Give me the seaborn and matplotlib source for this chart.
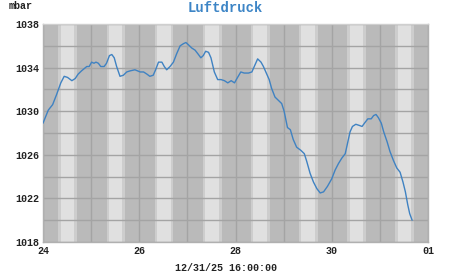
import numpy as np
import pandas as pd
import matplotlib
matplotlib.use("Agg")
import matplotlib.pyplot as plt
import seaborn as sns

# Time in days since Dec 24 00:00, pressure in mbar
days = [0.00, 0.11, 0.20, 0.28, 0.37, 0.44, 0.51, 0.60, 0.67, 0.73, 0.80, 0.91, 0.96,
        1.01, 1.06, 1.10, 1.15, 1.20, 1.27, 1.32, 1.38, 1.43, 1.48, 1.53, 1.60, 1.67,
        1.74, 1.81, 1.91, 2.02, 2.09, 2.16, 2.22, 2.29, 2.34, 2.40, 2.47, 2.52, 2.57,
        2.64, 2.71, 2.78, 2.85, 2.92, 2.97, 3.02, 3.09, 3.16, 3.23, 3.28, 3.33, 3.38,
        3.44, 3.49, 3.56, 3.63, 3.70, 3.77, 3.84, 3.91, 3.98, 4.03, 4.11, 4.18, 4.27,
        4.34, 4.41, 4.46, 4.53, 4.58, 4.64, 4.70, 4.75, 4.82, 4.89, 4.96, 5.01, 5.08,
        5.14, 5.20, 5.27, 5.36, 5.43, 5.48, 5.55, 5.62, 5.69, 5.76, 5.83, 5.91, 6.00,
        6.07, 6.14, 6.21, 6.28, 6.33, 6.38, 6.43, 6.50, 6.57, 6.63, 6.68, 6.75, 6.82,
        6.87, 6.92, 6.97, 7.03, 7.08, 7.15, 7.21, 7.28, 7.35, 7.42, 7.48, 7.53, 7.58,
        7.62, 7.67]
pressure = [1028.9, 1030.1, 1030.6, 1031.5, 1032.6, 1033.2, 1033.1, 1032.8, 1033.0, 1033.4,
            1033.7, 1034.1, 1034.1, 1034.5, 1034.4, 1034.5, 1034.4, 1034.1, 1034.1, 1034.4,
            1035.1, 1035.2, 1034.9, 1034.1, 1033.2, 1033.3, 1033.6, 1033.7, 1033.8, 1033.6,
            1033.6, 1033.4, 1033.2, 1033.3, 1033.8, 1034.5, 1034.5, 1034.1, 1033.8, 1034.1,
            1034.5, 1035.3, 1036.0, 1036.2, 1036.3, 1036.1, 1035.8, 1035.6, 1035.2, 1034.9,
            1035.1, 1035.5, 1035.4, 1034.9, 1033.6, 1032.9, 1032.9, 1032.8, 1032.6, 1032.8,
            1032.6, 1033.0, 1033.6, 1033.5, 1033.5, 1033.6, 1034.3, 1034.8, 1034.5, 1034.1,
            1033.5, 1032.9, 1032.1, 1031.3, 1031.0, 1030.7, 1030.0, 1028.5, 1028.3, 1027.4,
            1026.7, 1026.4, 1026.1, 1025.4, 1024.3, 1023.5, 1022.9, 1022.5, 1022.6, 1023.1,
            1023.8, 1024.6, 1025.2, 1025.7, 1026.1, 1027.1, 1028.1, 1028.6, 1028.8, 1028.7,
            1028.6, 1028.9, 1029.3, 1029.3, 1029.6, 1029.7, 1029.4, 1028.9, 1028.1, 1027.2,
            1026.3, 1025.5, 1024.8, 1024.4, 1023.5, 1022.6, 1021.4, 1020.6, 1020.0]

x_tick_pos = [0, 2, 4, 6, 8]
x_tick_labels = ["24", "26", "28", "30", "01"]
y_ticks = [1018, 1022, 1026, 1030, 1034, 1038]

title = "Luftdruck"
unit_label = "mbar"
timestamp = "12/31/25 16:00:00"

df = pd.DataFrame({"day": days, "pressure": pressure})

sns.set_style("white")
plt.rcParams["font.family"] = ["Liberation Mono", "DejaVu Sans Mono"]

fig = plt.figure(figsize=(4.51, 2.75), dpi=100)
ax = fig.add_axes([43 / 451, 1 - 242 / 275, (428 - 43) / 451, (242 - 24) / 275])

dark = "#bababa"
mid = "#cdcdcd"
light = "#e0e0e0"
ax.set_facecolor(dark)
for d in range(8):
    ax.axvspan(d + 0.32, d + 0.37, color=mid, lw=0, zorder=0)
    ax.axvspan(d + 0.37, d + 0.65, color=light, lw=0, zorder=0)
    ax.axvspan(d + 0.65, d + 0.71, color=mid, lw=0, zorder=0)

sns.lineplot(data=df, x="day", y="pressure", ax=ax, color="#3f82c2", lw=1.0, zorder=3)

ax.set_xlim(0, 8)
ax.set_ylim(1018, 1038)
ax.set_xticks(np.arange(0, 9, 1), minor=True)
ax.set_yticks(np.arange(1018, 1039, 2), minor=True)
ax.set_xticks(x_tick_pos)
ax.set_xticklabels(x_tick_labels)
ax.set_yticks(y_ticks)
ax.set_yticklabels([str(v) for v in y_ticks])
ax.grid(True, which="both", color="#a4a4a4", lw=1.0, zorder=1)
ax.set_axisbelow(True)
ax.tick_params(which="both", length=0)
ax.tick_params(axis="x", pad=3, labelsize=7.2, labelcolor="#222222")
ax.tick_params(axis="y", pad=3, labelsize=7.2, labelcolor="#222222")
for lbl in ax.get_xticklabels() + ax.get_yticklabels():
    lbl.set_fontweight("bold")
ax.set_xlabel("")
ax.set_ylabel("")
for s in ax.spines.values():
    s.set_color("#b0b0b0")
    s.set_linewidth(1.0)
ax.spines["top"].set_color("#cfcfcf")

fig.text(225 / 451, 1 - 8 / 275, title, ha="center", va="center", fontsize=10,
         fontweight="bold", color="#3d85c6")
fig.text(21 / 451, 1 - 6 / 275, unit_label, ha="center", va="center", fontsize=7.2,
         fontweight="bold", color="#222222")
fig.text(226 / 451, 1 - 268 / 275, timestamp, ha="center", va="center", fontsize=7.2,
         fontweight="bold", color="#222222")

fig.savefig("out.png", dpi=100, facecolor="white")
